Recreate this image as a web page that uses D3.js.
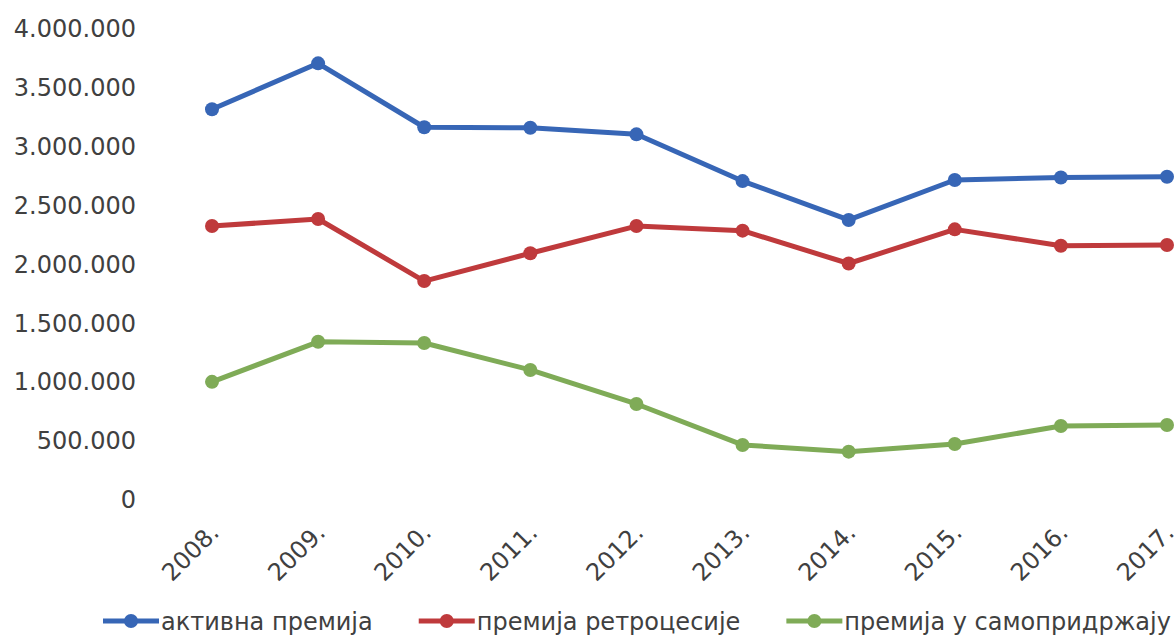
<!DOCTYPE html>
<html>
<head>
<meta charset="utf-8">
<script src="https://cdn.jsdelivr.net/npm/d3@7"></script>
<style>
  html, body { margin: 0; padding: 0; background: #ffffff; }
  svg { display: block; }
  text { font-family: "DejaVu Sans", Verdana, sans-serif; fill: #404040; }
</style>
</head>
<body>
<svg id="chart" width="1176" height="636"></svg>
<script>
const years = ["2008.", "2009.", "2010.", "2011.", "2012.", "2013.", "2014.", "2015.", "2016.", "2017."];
const seriesNames = ["активна премија", "премија ретроцесије", "премија у самопридржају"];
const aktivna = [3310000, 3700000, 3157000, 3153000, 3097000, 2700000, 2370000, 2709000, 2730000, 2737000];
const retrocesija = [2318000, 2378000, 1851000, 2087000, 2318000, 2279000, 2000000, 2290000, 2151000, 2157000];
const samopridrzaj = [995000, 1335000, 1325000, 1096000, 807000, 459000, 402000, 467000, 620000, 628000];
const yTicks = [0, 500000, 1000000, 1500000, 2000000, 2500000, 3000000, 3500000, 4000000];
const colors = ["#3766b6", "#bf3a3c", "#7fab57"];

const series = [aktivna, retrocesija, samopridrzaj];

const svg = d3.select("#chart");
const locale = d3.formatLocale({ decimal: ",", thousands: ".", grouping: [3], currency: ["", ""] });
const fmt = locale.format(",d");

const x = d3.scalePoint().domain(years).range([212, 1167]);
const y = d3.scaleLinear().domain([0, 4000000]).range([499, 28]);

// Y axis
const yAxis = svg.append("g")
  .attr("transform", "translate(136,0)")
  .call(d3.axisLeft(y).tickValues(yTicks).tickFormat(fmt).tickSize(0).tickPadding(0));
yAxis.select(".domain").remove();
yAxis.selectAll("text")
  .style("font-family", '"DejaVu Sans", Verdana, sans-serif')
  .style("font-size", "24px")
  .attr("fill", "#404040")
  .attr("dy", "0.36em");

// X axis
const xAxis = svg.append("g")
  .attr("transform", "translate(0,520)")
  .call(d3.axisBottom(x).tickSize(0).tickPadding(0));
xAxis.select(".domain").remove();
xAxis.selectAll("text")
  .style("font-family", '"DejaVu Sans", Verdana, sans-serif')
  .style("font-size", "24px")
  .attr("fill", "#404040")
  .attr("text-anchor", "end")
  .attr("y", 0)
  .attr("dy", 0)
  .attr("transform", "translate(8,14) rotate(-45)");

// Lines
const line = d3.line()
  .x((d, i) => x(years[i]))
  .y(d => y(d));

series.forEach((vals, si) => {
  svg.append("path")
    .datum(vals)
    .attr("d", line)
    .attr("fill", "none")
    .attr("stroke", colors[si])
    .attr("stroke-width", 5)
    .attr("stroke-linejoin", "round")
    .attr("stroke-linecap", "round");
  svg.append("g").selectAll("circle")
    .data(vals)
    .join("circle")
    .attr("cx", (d, i) => x(years[i]))
    .attr("cy", d => y(d))
    .attr("r", 7)
    .attr("fill", colors[si]);
});

// Legend
const legend = svg.append("g").attr("transform", "translate(0,621)");
let lx = 103;
seriesNames.forEach((name, si) => {
  const g = legend.append("g").attr("transform", `translate(${lx},0)`);
  g.append("line")
    .attr("x1", 0).attr("x2", 56).attr("y1", 0).attr("y2", 0)
    .attr("stroke", colors[si]).attr("stroke-width", 5);
  g.append("circle").attr("cx", 28).attr("cy", 0).attr("r", 7).attr("fill", colors[si]);
  const t = g.append("text")
    .attr("x", 58)
    .attr("y", 0)
    .attr("dy", "0.36em")
    .style("font-size", "24px")
    .text(name);
  const w = t.node().getComputedTextLength();
  lx += 58 + w + 46;
});
</script>
</body>
</html>
